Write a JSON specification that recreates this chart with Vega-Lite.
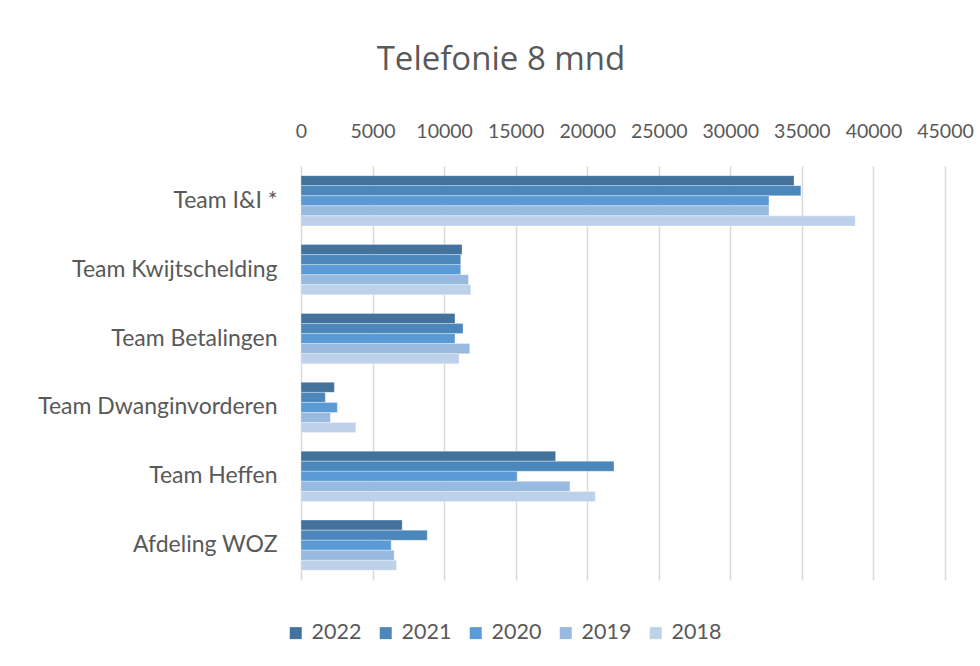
{
  "$schema": "https://vega.github.io/schema/vega-lite/v6.json",
  "autosize": "none",
  "width": 644,
  "height": 414,
  "padding": {"left": 301, "top": 166, "right": 35, "bottom": 86},
  "background": "white",
  "title": {"text": "Telefonie 8 mnd", "fontSize": 33, "font": "Open Sans", "fontWeight": "normal", "color": "#595959", "dx": -122, "offset": 44},
  "data": {"values": [
    {"team": "Team I&I *", "year": "2022", "value": 34450},
    {"team": "Team I&I *", "year": "2021", "value": 34930},
    {"team": "Team I&I *", "year": "2020", "value": 32700},
    {"team": "Team I&I *", "year": "2019", "value": 32700},
    {"team": "Team I&I *", "year": "2018", "value": 38720},
    {"team": "Team Kwijtschelding", "year": "2022", "value": 11250},
    {"team": "Team Kwijtschelding", "year": "2021", "value": 11160},
    {"team": "Team Kwijtschelding", "year": "2020", "value": 11160},
    {"team": "Team Kwijtschelding", "year": "2019", "value": 11700},
    {"team": "Team Kwijtschelding", "year": "2018", "value": 11860},
    {"team": "Team Betalingen", "year": "2022", "value": 10760},
    {"team": "Team Betalingen", "year": "2021", "value": 11320},
    {"team": "Team Betalingen", "year": "2020", "value": 10760},
    {"team": "Team Betalingen", "year": "2019", "value": 11790},
    {"team": "Team Betalingen", "year": "2018", "value": 11040},
    {"team": "Team Dwanginvorderen", "year": "2022", "value": 2330},
    {"team": "Team Dwanginvorderen", "year": "2021", "value": 1700},
    {"team": "Team Dwanginvorderen", "year": "2020", "value": 2540},
    {"team": "Team Dwanginvorderen", "year": "2019", "value": 2050},
    {"team": "Team Dwanginvorderen", "year": "2018", "value": 3830},
    {"team": "Team Heffen", "year": "2022", "value": 17790},
    {"team": "Team Heffen", "year": "2021", "value": 21870},
    {"team": "Team Heffen", "year": "2020", "value": 15100},
    {"team": "Team Heffen", "year": "2019", "value": 18790},
    {"team": "Team Heffen", "year": "2018", "value": 20560},
    {"team": "Afdeling WOZ", "year": "2022", "value": 7070},
    {"team": "Afdeling WOZ", "year": "2021", "value": 8820},
    {"team": "Afdeling WOZ", "year": "2020", "value": 6300},
    {"team": "Afdeling WOZ", "year": "2019", "value": 6510},
    {"team": "Afdeling WOZ", "year": "2018", "value": 6670}
  ]},
  "mark": {"type": "bar", "stroke": "white", "strokeWidth": 0.5, "strokeOpacity": 0.6},
  "encoding": {
    "y": {
      "field": "team", "type": "nominal",
      "sort": ["Team I&I *", "Team Kwijtschelding", "Team Betalingen", "Team Dwanginvorderen", "Team Heffen", "Afdeling WOZ"],
      "scale": {"paddingInner": 0.27, "paddingOuter": 0.14},
      "axis": {"title": null, "domain": false, "ticks": false, "grid": false, "labelFontSize": 23, "labelFont": "Lato", "labelColor": "#595959", "labelPadding": 24, "labelLimit": 0}
    },
    "yOffset": {
      "field": "year", "type": "nominal",
      "sort": ["2022", "2021", "2020", "2019", "2018"]
    },
    "x": {
      "field": "value", "type": "quantitative",
      "scale": {"domain": [0, 45000], "nice": false},
      "axis": {"orient": "top", "title": null, "values": [0, 5000, 10000, 15000, 20000, 25000, 30000, 35000, 40000, 45000], "format": "d", "domain": false, "ticks": false, "grid": true, "gridColor": "#D9D9D9", "gridWidth": 1.5, "labelFontSize": 19.5, "labelFont": "Lato", "labelColor": "#595959", "labelPadding": 25, "labelFlush": false}
    },
    "color": {
      "field": "year", "type": "nominal",
      "sort": ["2022", "2021", "2020", "2019", "2018"],
      "scale": {"domain": ["2022", "2021", "2020", "2019", "2018"], "range": ["#43729D", "#4C87BB", "#5B9BD5", "#98B9E0", "#BDD1EB"]},
      "legend": {"title": null, "orient": "none", "legendX": -16, "legendY": 456, "direction": "horizontal", "columns": 5, "symbolType": "square", "symbolSize": 144, "symbolStrokeWidth": 0, "labelFontSize": 21.5, "labelFont": "Lato", "labelColor": "#595959", "labelOffset": 5, "columnPadding": 13}
    }
  },
  "config": {"view": {"stroke": null}}
}
